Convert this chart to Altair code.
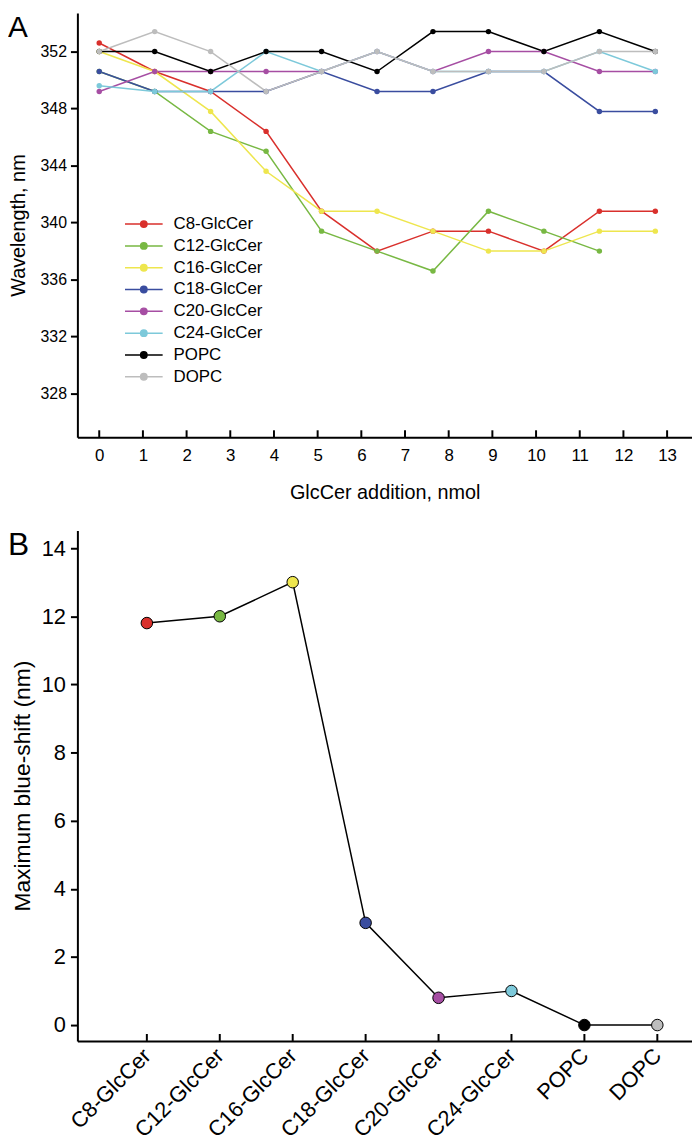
import json
import altair as alt
import pandas as pd

# ---------------- data ----------------
lipids = ["C8-GlcCer", "C12-GlcCer", "C16-GlcCer", "C18-GlcCer",
          "C20-GlcCer", "C24-GlcCer", "POPC", "DOPC"]
colors = ["#d9302c", "#78b843", "#eee64e", "#3a4d9f",
          "#a64ea3", "#7dc9da", "#000000", "#bdbdbd"]

# Panel A: GlcCer addition (nmol) vs emission wavelength (nm)
additions = [0, 1.27, 2.55, 3.82, 5.09, 6.36, 7.64, 8.91, 10.18, 11.45, 12.73]
c8 = [352.6, 350.6, 349.2, 346.4, 340.8, 338.0, 339.4, 339.4, 338.0, 340.8, 340.8]
c12 = [350.6, 349.2, 346.4, 345.0, 339.4, 338.0, 336.6, 340.8, 339.4, 338.0, None]
c16 = [352.0, 350.6, 347.8, 343.6, 340.8, 340.8, 339.4, 338.0, 338.0, 339.4, 339.4]
c18 = [350.6, 349.2, 349.2, 349.2, 350.6, 349.2, 349.2, 350.6, 350.6, 347.8, 347.8]
c20 = [349.2, 350.6, 350.6, 350.6, 350.6, 352.0, 350.6, 352.0, 352.0, 350.6, 350.6]
c24 = [349.6, 349.2, 349.2, 352.0, 350.6, 352.0, 350.6, 350.6, 350.6, 352.0, 350.6]
popc = [352.0, 352.0, 350.6, 352.0, 352.0, 350.6, 353.4, 353.4, 352.0, 353.4, 352.0]
dopc = [352.0, 353.4, 352.0, 349.2, 350.6, 352.0, 350.6, 350.6, 350.6, 352.0, 352.0]

a_xticks = [0, 1, 2, 3, 4, 5, 6, 7, 8, 9, 10, 11, 12, 13]
a_yticks = [328, 332, 336, 340, 344, 348, 352]

# Panel B: maximum blue-shift (nm)
max_shift = [11.8, 12.0, 13.0, 3.0, 0.8, 1.0, 0.0, 0.0]
b_yticks = [0, 2, 4, 6, 8, 10, 12, 14]

# ---------------- tables ----------------
series_a = [c8, c12, c16, c18, c20, c24, popc, dopc]
rows = []
for name, vals in zip(lipids, series_a):
    for x, v in zip(additions, vals):
        if v is not None:
            rows.append({"lipid": name, "nmol": x, "wl": v})
dfA = pd.DataFrame(rows)
dfAt = pd.DataFrame({"nmol": a_xticks})
dfB = pd.DataFrame({"lipid": lipids, "shift": max_shift})

FONT = "Liberation Sans"
WA, HA = 620, 428
WB, HB = 620, 515

color_scale = alt.Scale(domain=lipids, range=colors)
legend_path = "M-1,0H1M-0.17,0A0.17,0.17,0,1,0,0.17,0A0.17,0.17,0,1,0,-0.17,0Z"
legA = alt.Legend(title=None, orient="none", legendX=47, legendY=202,
                  symbolType=legend_path, symbolSize=1444, symbolStrokeWidth=1.5,
                  labelFontSize=17, labelOffset=10, clipHeight=22, rowPadding=0,
                  padding=0, labelFont=FONT, labelColor="black", labelLimit=300)

xA_scale = alt.Scale(domain=[-0.5, 13.57], nice=False, zero=False)
xA = alt.X("nmol:Q", scale=xA_scale,
           axis=alt.Axis(values=a_xticks, title="GlcCer addition, nmol", ticks=False,
                         labelPadding=10, titlePadding=20, labelFontSize=17,
                         titleFontSize=20, domainWidth=2, domainColor="black",
                         labelFlush=False))
yA = alt.Y("wl:Q", scale=alt.Scale(domain=[324.94, 354.71], nice=False, zero=False),
           axis=alt.Axis(values=a_yticks, title="Wavelength, nm", tickSize=7,
                         tickWidth=2, tickColor="black", labelPadding=4,
                         labelFontSize=16, titleFontSize=20, titlePadding=12,
                         domainWidth=2, domainColor="black"))

linesA = alt.Chart(dfA).mark_line(strokeWidth=1.5).encode(
    x=xA, y=yA, order="nmol:Q",
    color=alt.Color("lipid:N", scale=color_scale, sort=lipids, legend=legA))
pointsA = alt.Chart(dfA).mark_circle(size=30, opacity=1).encode(
    x=xA, y=yA,
    color=alt.Color("lipid:N", scale=color_scale, sort=lipids, legend=legA))
ticksA = alt.Chart(dfAt).mark_rule(color="black", strokeWidth=2).encode(
    x=alt.X("nmol:Q", scale=xA_scale), y=alt.value(HA), y2=alt.value(HA - 7))
labelA = alt.Chart(pd.DataFrame({"t": ["A"]})).mark_text(
    fontSize=30, align="left", baseline="top", font=FONT, color="black").encode(
    text="t:N", x=alt.value(-70), y=alt.value(0))

panelA = alt.layer(linesA, pointsA, ticksA, labelA).properties(width=WA, height=HA)

xB_scale = alt.Scale(type="point", domain=lipids, padding=0.714, align=0.667)
xB = alt.X("lipid:N", sort=lipids, scale=xB_scale,
           axis=alt.Axis(title=None, ticks=False, labelAngle=315, labelAlign="right",
                         labelBaseline="middle", labelPadding=11, labelFontSize=22,
                         domainWidth=2, domainColor="black"))
yB = alt.Y("shift:Q", scale=alt.Scale(domain=[-0.466, 14.52], nice=False, zero=False),
           axis=alt.Axis(values=b_yticks, title="Maximum blue-shift (nm)", tickSize=7,
                         tickWidth=2, tickColor="black", labelPadding=5,
                         labelFontSize=22, titleFontSize=23, titlePadding=7,
                         domainWidth=2, domainColor="black"))

lineB = alt.Chart(dfB).mark_line(color="black", strokeWidth=1.5).encode(x=xB, y=yB)
pointB = alt.Chart(dfB).mark_circle(size=135, opacity=1, stroke="black",
                                    strokeWidth=1).encode(
    x=xB, y=yB, fill=alt.Fill("lipid:N", scale=color_scale, sort=lipids, legend=None))
ticksB = alt.Chart(dfB).mark_rule(color="black", strokeWidth=2).encode(
    x=alt.X("lipid:N", sort=lipids, scale=xB_scale), y=alt.value(HB), y2=alt.value(HB - 7))
labelB = alt.Chart(pd.DataFrame({"t": ["B"]})).mark_text(
    fontSize=32, align="left", baseline="top", font=FONT, color="black").encode(
    text="t:N", x=alt.value(-70), y=alt.value(0))

panelB = alt.layer(lineB, pointB, ticksB, labelB).properties(width=WB, height=HB)

chart = alt.vconcat(panelA, panelB, spacing=27).properties(
    padding={"left": 0, "top": 0, "right": 0, "bottom": 0}
).configure_view(stroke=None).configure_axis(
    grid=False, labelFont=FONT, titleFont=FONT, labelColor="black",
    titleColor="black", titleFontWeight="normal"
)

chart.save("out.html", embed_options={"renderer": "svg", "actions": False})
